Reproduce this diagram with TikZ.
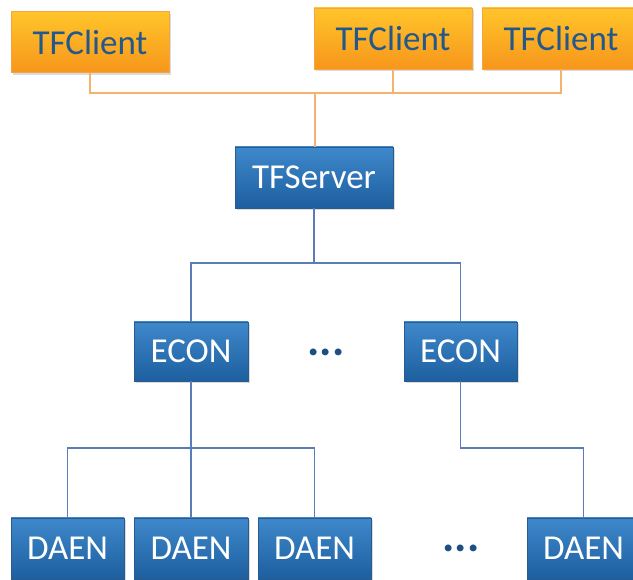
\documentclass[tikz,border=0pt]{standalone}
\usepackage{fontspec}
\setmainfont{Carlito}
\usetikzlibrary{shadows}
\definecolor{otop}{HTML}{FFC52A}
\definecolor{obot}{HTML}{F7961C}
\definecolor{oedge}{HTML}{F5A444}
\definecolor{btop}{HTML}{3E88CB}
\definecolor{bbot}{HTML}{1D5F9F}
\definecolor{bedge}{HTML}{2A5B8E}
\definecolor{otext}{HTML}{22588C}
\definecolor{oline}{HTML}{F4B26E}
\definecolor{bline}{HTML}{5B7DB6}
\definecolor{dots}{HTML}{1F4E82}
\tikzset{
  obox/.style={rectangle, draw=oedge, line width=0.8pt, top color=otop, bottom color=obot,
    text=otext, font=\fontsize{35}{40}\selectfont, minimum width=158pt, minimum height=61pt,
    inner sep=0pt, drop shadow={shadow xshift=1.5pt, shadow yshift=-2.5pt, opacity=0.35, fill=black!40}},
  bbox/.style={rectangle, draw=bedge, line width=0.8pt, top color=btop, bottom color=bbot,
    text=white, font=\fontsize{35}{40}\selectfont, minimum height=60pt,
    inner sep=0pt, drop shadow={shadow xshift=1.5pt, shadow yshift=-2.5pt, opacity=0.35, fill=black!40}},
  oconn/.style={draw=oline, line width=1.6pt},
  bconn/.style={draw=bline, line width=1.5pt},
  dotstyle/.style={text=dots, font=\fontsize{46}{50}\selectfont\bfseries}
}
\begin{document}
\begin{tikzpicture}[x=1pt,y=-1pt]
\useasboundingbox (0,0) rectangle (633,580);
\clip (0,0) rectangle (633,580);
\fill[white] (0,0) rectangle (633,580);
% nodes
\node[obox] (c1) at (90,42) {TFClient};
\node[obox] (c2) at (393,38.5) {TFClient};
\node[obox] (c3) at (561,38.5) {TFClient};
\node[bbox, minimum width=158pt, minimum height=61pt] (srv) at (314,177.5) {TFServer};
\node[bbox, minimum width=114pt, minimum height=59pt] (e1) at (191,351.5) {ECON};
\node[bbox, minimum width=113pt, minimum height=59pt] (e2) at (460.5,351.5) {ECON};
\node[bbox, minimum width=113pt, minimum height=61pt] (d1) at (67.5,548.5) {DAEN};
\node[bbox, minimum width=114pt, minimum height=61pt] (d2) at (191,548.5) {DAEN};
\node[bbox, minimum width=113pt, minimum height=61pt] (d3) at (314.5,548.5) {DAEN};
\node[bbox, minimum width=113pt, minimum height=61pt] (d4) at (583.5,548.5) {DAEN};
\node[dotstyle] (dt1) at (326,352) {...};
\node[dotstyle] (dt2) at (461,548) {...};
% connectors
\coordinate (tbus) at (315,93);
\coordinate (sbus) at (314,263);
\coordinate (ebus) at (191,448);
\path[oconn] (c1.south) |- (tbus) -| (c3.south);
\path[oconn] (c2.south) -- (c2.south |- tbus);
\path[oconn] (tbus) -- (tbus |- srv.north);
\path[bconn] (srv.south) -- (sbus);
\path[bconn] (e1.north) |- (sbus) -| (e2.north);
\path[bconn] (e1.south) -- (d2.north);
\path[bconn] (d1.north) |- (ebus) -| (d3.north);
\path[bconn] (e2.south) |- (d4.north |- ebus) -- (d4.north);
\end{tikzpicture}
\end{document}
